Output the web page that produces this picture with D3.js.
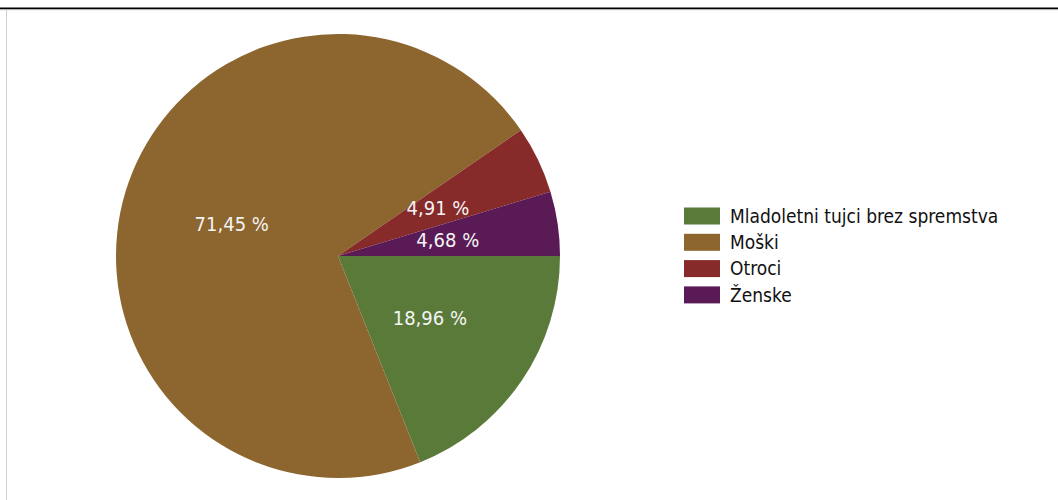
<!DOCTYPE html>
<html><head><meta charset="utf-8">
<script src="https://cdn.jsdelivr.net/npm/d3@7"></script>
<style>body{margin:0;background:#fff}svg{display:block}</style>
</head><body>
<script>
const categories = ["Mladoletni tujci brez spremstva", "Moški", "Otroci", "Ženske"];
const values = [18.96, 71.45, 4.91, 4.68];
const labels = ["18,96 %", "71,45 %", "4,91 %", "4,68 %"];
const colors = ["#5a7a3a", "#8d652e", "#862a2a", "#5a1a56"];

const W = 1058, H = 500;
const svg = d3.select("body").append("svg").attr("width", W).attr("height", H);

// frame
svg.append("line").attr("x1", 0).attr("x2", W).attr("y1", 8.5).attr("y2", 8.5).attr("stroke", "#000").attr("stroke-width", 2);
svg.append("line").attr("x1", 0).attr("x2", W).attr("y1", 10).attr("y2", 10).attr("stroke", "#e6e6e6").attr("stroke-width", 1);
svg.append("line").attr("x1", 6.5).attr("x2", 6.5).attr("y1", 10).attr("y2", H).attr("stroke", "#cfcfcf").attr("stroke-width", 1);

const data = categories.map((c, i) => ({cat: c, value: values[i], label: labels[i], color: colors[i]}));
const cx = 338, cy = 256, r = 222;
const pie = d3.pie().value(d => d.value).sort(null).startAngle(Math.PI / 2).endAngle(Math.PI / 2 + 2 * Math.PI);
const arc = d3.arc().innerRadius(0).outerRadius(r);
const g = svg.append("g").attr("transform", `translate(${cx},${cy})`);
const arcs = pie(data);
g.selectAll("path").data(arcs).join("path").attr("d", arc).attr("fill", d => d.data.color);
g.selectAll("text").data(arcs).join("text")
  .attr("transform", d => `translate(${arc.centroid(d)})`)
  .attr("text-anchor", "middle").attr("dy", "0.35em")
  .attr("fill", "#f4f4f4")
  .style("font-family", "'DejaVu Sans Condensed', 'DejaVu Sans', sans-serif")
  .style("font-size", "20px")
  .text(d => d.data.label);

const lg = svg.append("g").attr("transform", "translate(684,216)");
const rows = lg.selectAll("g").data(data).join("g").attr("transform", (d, i) => `translate(0,${i * 26.3})`);
rows.append("rect").attr("x", 0).attr("y", -8.5).attr("width", 36).attr("height", 17).attr("fill", d => d.color);
rows.append("text").attr("x", 46).attr("dy", "0.36em")
  .attr("fill", "#111")
  .style("font-family", "'DejaVu Sans Condensed', 'DejaVu Sans', sans-serif")
  .style("font-size", "19px")
  .text(d => d.cat);
</script>
</body></html>
